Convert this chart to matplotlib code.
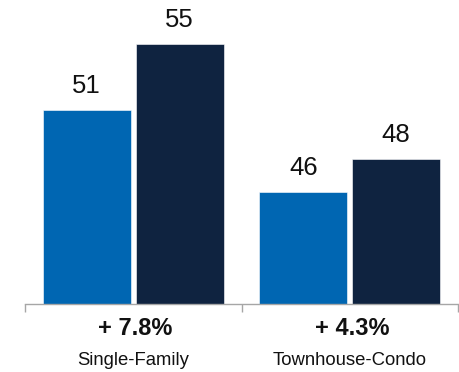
import matplotlib.pyplot as plt
import matplotlib.transforms as mtransforms
import numpy as np

plt.rcParams['font.family'] = ['Liberation Sans', 'DejaVu Sans']

# --- dados ---
categorias = ['Single-Family', 'Townhouse-Condo']
ano_anterior = [51, 46]
ano_atual = [55, 48]
variacao = ['+ 7.8%', '+ 4.3%']

# cores
COR_ANTERIOR = '#0066B2'
COR_ATUAL = '#0F2340'

fig = plt.figure(figsize=(4.59, 3.72), dpi=100)
ax = fig.add_axes([25 / 459, 68 / 372, 433 / 459, 304 / 372])

x = np.arange(len(categorias)) + 0.5
largura = 0.406
deslocamento = 0.2146

b1 = ax.bar(x - deslocamento, ano_anterior, largura, color=COR_ANTERIOR,
            edgecolor='white', linewidth=0.4)
b2 = ax.bar(x + deslocamento, ano_atual, largura, color=COR_ATUAL,
            edgecolor='white', linewidth=0.4)

ax.set_ylim(39.2, 57.7)
ax.set_xlim(0, 2)

# valores acima das barras
for barras in (b1, b2):
    for bar in barras:
        h = bar.get_height()
        ax.annotate(f'{h:g}', (bar.get_x() + bar.get_width() / 2, h),
                    xytext=(0, 9), textcoords='offset points',
                    ha='center', va='bottom', fontsize=18.5, color='#111111')

# eixos
for lado in ('top', 'right', 'left'):
    ax.spines[lado].set_visible(False)
ax.spines['bottom'].set_color('#A6A6A6')
ax.spines['bottom'].set_linewidth(1.0)
ax.set_yticks([])
ax.set_xticks([0, 1, 2])
ax.set_xticklabels([])
ax.tick_params(axis='x', length=6, color='#A6A6A6', width=1.0)

trans = mtransforms.blended_transform_factory(ax.transData, ax.transAxes)
for xi, cat, pct in zip(x, categorias, variacao):
    ax.text(xi + 0.01, -0.079, pct, transform=trans, ha='center', va='center',
            fontsize=17, fontweight='bold', color='#111111')
    ax.text(xi, -0.187, cat, transform=trans, ha='center', va='center',
            fontsize=13.3, color='#111111')

fig.savefig('out.png', dpi=100)
